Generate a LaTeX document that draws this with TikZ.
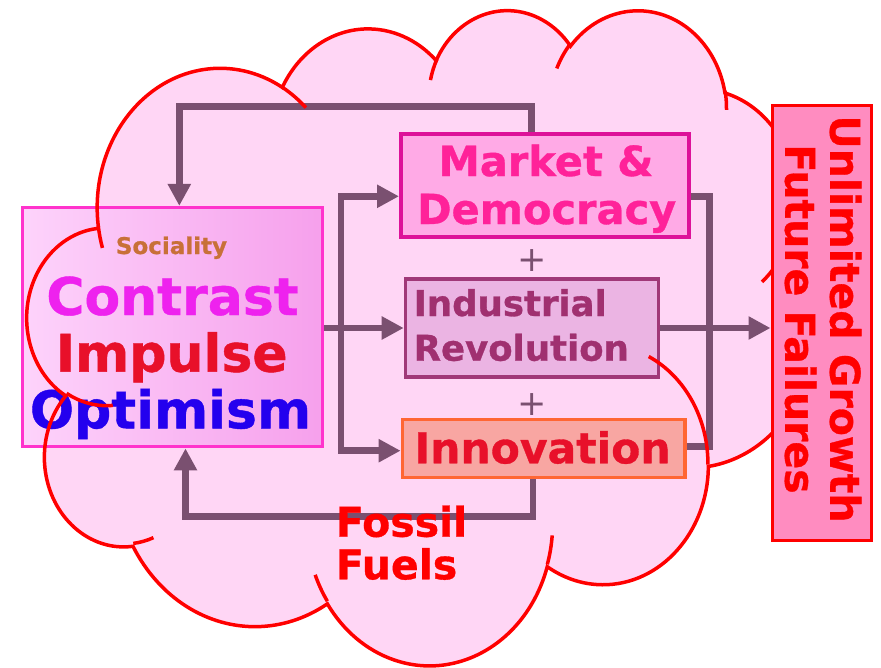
\documentclass[tikz,border=0pt]{standalone}
\usepackage{fontspec}
\setmainfont{DejaVu Sans}[BoldFeatures={FakeBold=0.8}]
\usetikzlibrary{arrows.meta}
\definecolor{cloudfill}{HTML}{FFD6F5}
\definecolor{cloudline}{HTML}{FF0000}
\definecolor{conncol}{HTML}{7A5070}
\definecolor{leftA}{HTML}{FDD3FB}
\definecolor{leftB}{HTML}{F6A0EC}
\definecolor{leftline}{HTML}{FF33CC}
\definecolor{mktfill}{HTML}{FFAAE6}
\definecolor{mktline}{HTML}{DD1199}
\definecolor{mkttext}{HTML}{FF2299}
\definecolor{indfill}{HTML}{EBB4E3}
\definecolor{indline}{HTML}{A03878}
\definecolor{indtext}{HTML}{A03070}
\definecolor{innfill}{HTML}{F8A6A2}
\definecolor{innline}{HTML}{FF6633}
\definecolor{crimson}{HTML}{E8102A}
\definecolor{rightfill}{HTML}{FF8CC0}
\definecolor{socol}{HTML}{C87038}
\definecolor{contrastcol}{HTML}{EE22EE}
\definecolor{optcol}{HTML}{2400EE}

% visual-angle arcs (OOXML style) converted to parametric TikZ arcs
\newcommand\cldprep[5]{%
  \pgfmathsetmacro\cldtmpS{atan2((#2)*sin(#4),(#3)*cos(#4))}%
  \pgfmathsetmacro\cldtmpE{atan2((#2)*sin((#4)+(#5)),(#3)*cos((#4)+(#5)))}%
  \pgfmathsetmacro\cldtmpD{\cldtmpE-\cldtmpS}%
  \pgfmathsetmacro\cldtmpD{\cldtmpD<0?\cldtmpD+360:\cldtmpD}%
  \expandafter\global\expandafter\let\csname cldS#1\endcsname\cldtmpS
  \expandafter\global\expandafter\let\csname cldD#1\endcsname\cldtmpD
}
\newcommand\carc[3]{arc[start angle={\csname cldS#1\endcsname},delta angle={\csname cldD#1\endcsname},x radius=#2,y radius=#3]}
\newcommand\cloudpath{(39.00,143.70) \carc{A}{67.53}{91.90} \carc{B}{53.33}{72.67}
 \carc{C}{43.65}{59.45} \carc{D}{48.57}{65.95} \carc{E}{53.33}{72.73}
 \carc{F}{67.75}{92.20} \carc{G}{57.85}{78.67} \carc{H}{67.52}{92.15}
 \carc{I}{77.20}{105.43} \carc{J}{43.60}{59.18} \carc{K}{43.45}{59.45} -- cycle}
\newcommand\cloudfolds{(46.93,261.77) \carc{a}{43.45}{59.45}
 (69.28,348.99) \carc{b}{43.60}{59.18}
 (164.78,390.90) \carc{c}{67.52}{92.15}
 (288.27,347.51) \carc{d}{67.52}{92.15}
 (341.29,229.54) \carc{e}{57.85}{78.67}
 (417.98,153.54) \carc{f}{53.33}{72.73}
 (383.24,54.26) \carc{g}{48.57}{65.95}
 (290.78,39.52) \carc{h}{48.57}{65.95}
 (221.41,47.20) \carc{i}{43.65}{59.45}
 (140.00,51.92) \carc{j}{67.53}{91.90}
 (41.27,157.89) \carc{k}{67.53}{91.90}}

\begin{document}
\begin{tikzpicture}[x=1pt,y=-1pt,
  conn/.style={draw=conncol,line width=6.5pt},
  >={Triangle[width=22pt,length=22pt]},
  box/.style={inner sep=0pt},
  txt/.style={inner sep=0pt},
  cloudscope/.style={shift={(27.3pt,-8.5pt)},x=1.82083pt,y=-1.5162pt},
  fbig/.style={font=\bfseries\fontsize{52}{58}\selectfont},
  fmid/.style={font=\bfseries\fontsize{41.5}{48}\selectfont},
  find/.style={font=\bfseries\fontsize{35.5}{44}\selectfont},
  fplus/.style={font=\fontsize{35}{40}\selectfont,text=conncol}]
\cldprep{A}{67.53}{91.90}{-190.48748}{123.78053}
\cldprep{B}{53.33}{72.67}{-144.10238}{89.94523}
\cldprep{C}{43.65}{59.45}{-145.80792}{99.72302}
\cldprep{D}{48.57}{65.95}{-130.98607}{117.24173}
\cldprep{E}{53.33}{72.73}{-78.70888}{109.02692}
\cldprep{F}{67.75}{92.20}{-46.26725}{130.269}
\cldprep{G}{57.85}{78.67}{0.62502}{114.03333}
\cldprep{H}{67.52}{92.15}{22.4516}{115.17255}
\cldprep{I}{77.20}{105.43}{66.24263}{75.71102}
\cldprep{J}{43.60}{59.18}{-274.94208}{146.73557}
\cldprep{K}{43.45}{59.45}{-246.8285}{152.51885}
\cldprep{a}{43.45}{59.45}{86.742}{26.4295}
\cldprep{b}{43.60}{59.18}{73.61047}{11.44747}
\cldprep{c}{67.52}{92.15}{137.62415}{14.0811}
\cldprep{d}{67.52}{92.15}{6.45327}{15.99835}
\cldprep{e}{57.85}{78.67}{-70.29235}{70.91737}
\cldprep{f}{53.33}{72.73}{30.31803}{27.7515}
\cldprep{g}{48.57}{65.95}{-13.74433}{14.8589}
\cldprep{h}{48.57}{65.95}{-149.18145}{18.19537}
\cldprep{i}{43.65}{59.45}{-163.49427}{17.68635}
\cldprep{j}{67.53}{91.90}{-66.70695}{12.31935}
\cldprep{k}{67.53}{91.90}{157.65435}{11.85817}

\fill[white] (0,0) rectangle (881,667);
\useasboundingbox (0,0) rectangle (881,667);

% cloud fill
\begin{scope}[cloudscope]
  \fill[cloudfill] \cloudpath;
\end{scope}

% boxes
\node[box,draw=leftline,line width=3.2pt,left color=leftA,right color=leftB,
  minimum width=300.3pt,minimum height=239.3pt] (left) at (172.35,327.15) {};
\node[box,draw=mktline,line width=3.6pt,fill=mktfill,
  minimum width=288.4pt,minimum height=102.6pt] (market) at (545,185.5) {};
\node[box,draw=indline,line width=3.6pt,fill=indfill,
  minimum width=253pt,minimum height=97.6pt] (indus) at (532,328) {};
\node[box,draw=innline,line width=3.8pt,fill=innfill,
  minimum width=282.5pt,minimum height=58pt] (innov) at (543.75,448.5) {};

% connector corners
\coordinate (tl) at (179.3,106.5);
\coordinate (tr) at (531.7,106.5);
\coordinate (sp) at (341,328);
\coordinate (spT) at (341,196.3);
\coordinate (spB) at (341,450.7);
\coordinate (rT) at (709.5,196.7);
\coordinate (rB) at (709.5,446.3);
\coordinate (bl) at (185.5,516.7);
\coordinate (br) at (533,516.7);

% connectors
\draw[conn,->] (market.north -| tr) -- (tr) -- (tl) -- (tl |- left.north);
\draw[conn] (left.east |- sp) -- (sp);
\draw[conn,<->] (spT -| market.west) -- (spT) -- (spB) -- (spB -| innov.west);
\draw[conn,->] (sp) -- (sp -| indus.west);
\draw[conn] (market.east |- rT) -- (rT) -- (rB) -- (innov.east |- rB);
\draw[conn,->] (innov.south -| br) -- (br) -- (bl) -- (bl |- left.south);

% texts
\node[txt,anchor=base,text=socol,font=\bfseries\fontsize{23}{27}\selectfont] (soc) at (171.5,254) {Sociality};
\node[txt,anchor=base,fbig,text=contrastcol] (contrast) at (172.5,315) {Contrast};
\node[txt,anchor=base,fbig,text=crimson] (impulse) at (171.7,371.7) {Impulse};
\node[txt,anchor=base,fbig,text=optcol] (optimism) at (170.5,428.3) {Optimism};
\node[txt,anchor=base,fmid,text=mkttext] (mkt1) at (546,176) {Market \&};
\node[txt,anchor=base,fmid,text=mkttext] (mkt2) at (546.7,224) {Democracy};
\node[txt,anchor=base west,find,text=indtext] (ind1) at (413.5,316) {Industrial};
\node[txt,anchor=base west,find,text=indtext] (ind2) at (413.5,360.7) {Revolution};
\node[txt,anchor=base,text=crimson,font=\bfseries\fontsize{42.5}{48}\selectfont] (inn) at (542.5,463.3) {Innovation};
\node[txt,fplus] (plus1) at (531.7,261) {+};
\node[txt,fplus] (plus2) at (531.7,405) {+};
\node[txt,anchor=base west,text=red,font=\bfseries\fontsize{41}{46}\selectfont] (fos1) at (335.6,536.7) {Fossil};
\node[txt,anchor=base west,text=red,font=\bfseries\fontsize{41}{46}\selectfont] (fos2) at (335.6,579.3) {Fuels};

% cloud outline and folds on top
\begin{scope}[cloudscope]
  \draw[cloudline,line width=3.5pt] \cloudpath;
  \draw[cloudline,line width=3.5pt] \cloudfolds;
\end{scope}

% right box
\node[box,draw=red,line width=3.4pt,fill=rightfill,
  minimum width=99pt,minimum height=434.7pt] (right) at (821.7,322.85) {};
\draw[conn,->] (indus.east) -- (indus.east -| right.west);
\node[txt,rotate=-90,align=center,text=red,font=\bfseries\fontsize{41}{45}\selectfont] (rtext) at (823,319) {Unlimited Growth\\Future Failures};
\end{tikzpicture}
\end{document}
